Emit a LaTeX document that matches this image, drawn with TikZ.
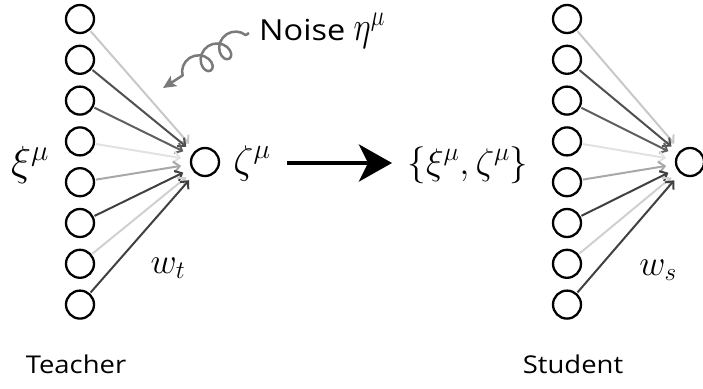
\RequirePackage{fix-cm}
\documentclass[tikz,border=0pt]{standalone}
\usepackage{fontspec}
\newfontfamily\labfont[FakeStretch=1.12]{Open Sans}
\usetikzlibrary{arrows.meta,decorations.pathmorphing}
\definecolor{wA}{HTML}{C8C8C8}
\definecolor{wB}{HTML}{505050}
\definecolor{wC}{HTML}{606060}
\definecolor{wD}{HTML}{E2E2E2}
\definecolor{wE}{HTML}{A8A8A8}
\definecolor{wF}{HTML}{404040}
\definecolor{wG}{HTML}{D0D0D0}
\definecolor{wH}{HTML}{404040}
\definecolor{noisegray}{HTML}{7A7A7A}
\begin{document}
\begin{tikzpicture}[x=1pt,y=-1pt,
  neuron/.style={circle,draw,line width=2.3pt,minimum size=28pt,inner sep=0pt},
  conn/.style={line width=2pt,-{Straight Barb[length=6pt,width=11pt,line width=2pt]},shorten >=9pt,shorten <=1pt},
  bigarrow/.style={line width=4pt,-{Stealth[length=33pt,width=37pt,inset=9pt]}},
  noisearrow/.style={draw=noisegray,line width=2.5pt,line join=round,decorate,
    decoration={coil,mirror,amplitude=11pt,segment length=22pt,aspect=0.9,pre length=4pt,post length=15pt},
    -{Stealth[length=13pt,width=12pt,inset=3pt]}},
  textlab/.style={font=\labfont\fontsize{24.5}{28}\selectfont,inner sep=0pt}]
\useasboundingbox (0,0) rectangle (703,388);
% teacher
\foreach \i in {0,...,7}
  \node[neuron] (t\i) at (80,{19+40.8*\i}) {};
\node[neuron] (to) at (205,162) {};
\foreach \i/\c in {0/wA,1/wB,2/wC,3/wD,4/wE,5/wF,6/wG,7/wH}
  \draw[conn,draw=\c] (t\i) -- (to);
% student
\foreach \i in {0,...,7}
  \node[neuron] (s\i) at (567,{19+40.8*\i}) {};
\node[neuron] (so) at (690,162) {};
\foreach \i/\c in {0/wA,1/wB,2/wC,3/wD,4/wE,5/wF,6/wG,7/wH}
  \draw[conn,draw=\c] (s\i) -- (so);
% labels
\node[inner sep=0pt,font=\fontsize{42}{46}\selectfont] (xi) at (30,165) {$\xi^\mu$};
\node[inner sep=0pt,font=\fontsize{40}{44}\selectfont] (zeta) at (252,163) {$\zeta^\mu$};
\node[inner sep=0pt,font=\fontsize{37}{42}\selectfont] (data) at (468,165) {$\{\xi^\mu,\zeta^\mu\}$};
\node[inner sep=0pt,font=\fontsize{36}{40}\selectfont] (wt) at (168,268) {$w_t$};
\node[inner sep=0pt,font=\fontsize{36}{40}\selectfont] (ws) at (658,270) {$w_s$};
\node[textlab] (teacher) at (76,364) {Teacher};
\node[textlab] (student) at (573,364) {Student};
\node[anchor=base west,inner sep=0pt,font=\labfont\fontsize{29}{34}\selectfont] (noise) at (259,40) {Noise {\fontsize{33}{37}\selectfont\scalebox{1}[1.25]{$\eta^\mu$}}};
% big arrow
\coordinate (as) at (287,163);
\coordinate (ae) at (392,163);
\draw[bigarrow] (as) -- (ae);
% noise coil
\coordinate (ns) at (249,33);
\coordinate (ne) at (163,88);
\draw[noisearrow] (ns) -- (ne);
\end{tikzpicture}
\end{document}
